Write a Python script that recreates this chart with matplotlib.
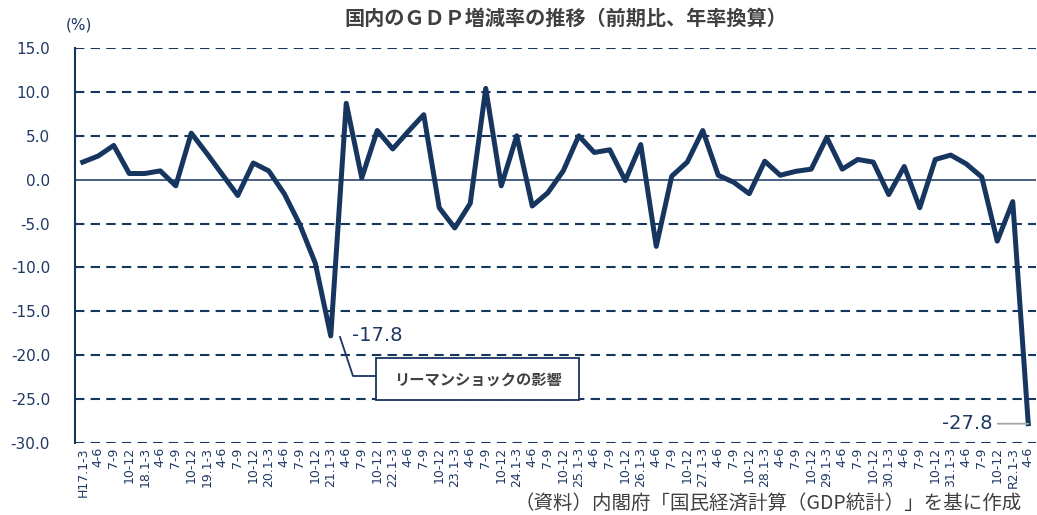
import numpy as np
import matplotlib
matplotlib.use("Agg")
import matplotlib.pyplot as plt
from matplotlib.patches import Rectangle
from matplotlib.lines import Line2D

plt.rcParams['font.family'] = ['DejaVu Sans', 'Noto Sans CJK JP']

# quarterly labels H17.1-3 ... R2.4-6
years = ['H17', '18', '19', '20', '21', '22', '23', '24', '25', '26', '27', '28', '29', '30', '31']
quarters = ['1-3', '4-6', '7-9', '10-12']
labels = []
for y in years:
    labels.append(y + '.' + quarters[0])
    labels.extend(quarters[1:])
labels += ['R2.1-3', '4-6']

# real GDP growth, q/q annualised (%)
growth = [2.0, 2.7, 3.9, 0.7, 0.7, 1.0, -0.7, 5.3,
          3.0, 0.6, -1.8, 1.9, 1.0, -1.6, -5.1, -9.5,
          -17.8, 8.7, 0.2, 5.6, 3.5, 5.5, 7.4, -3.2,
          -5.5, -2.7, 10.4, -0.7, 5.0, -3.0, -1.5, 1.0,
          5.0, 3.1, 3.4, -0.1, 4.0, -7.6, 0.4, 2.0,
          5.6, 0.5, -0.3, -1.6, 2.1, 0.5, 0.95, 1.2,
          4.8, 1.2, 2.3, 2.0, -1.7, 1.5, -3.2, 2.3,
          2.8, 1.8, 0.3, -7.0, -2.5, -27.8]

yticks = [15, 10, 5, 0, -5, -10, -15, -20, -25, -30]

NAVY = '#17365f'
TXT = '#1f3864'
GRAY = '#404040'

W, H = 1037, 515
fig = plt.figure(figsize=(W / 100, H / 100), dpi=100)


def fx(px):
    return px / W


def fy(py):
    return 1 - py / H


ax = fig.add_axes([fx(75), fy(443), fx(1036) - fx(75), fy(48) - fy(443)])
x = np.arange(len(growth))

for v in yticks:
    if v == 0:
        ax.axhline(v, color=NAVY, lw=1.1, zorder=1)
    else:
        ax.axhline(v, color=NAVY, lw=1.5, ls=(0, (4.5, 3)), zorder=1)

ax.plot(x, growth, color=NAVY, lw=3.6, solid_joinstyle='round', zorder=3)

ax.set_xlim(-0.5, len(growth) - 0.5)
ax.set_ylim(-30, 15)
ax.set_yticks(yticks)
ax.set_yticklabels(['%.1f' % v for v in yticks], fontsize=11, color=TXT)
ax.set_xticks(x)
ax.set_xticklabels(labels, rotation=90, fontsize=9, color=TXT)
ax.tick_params(axis='y', length=0, pad=18)
ax.tick_params(axis='x', length=0, pad=3)
for s in ['top', 'right', 'bottom']:
    ax.spines[s].set_visible(False)
ax.spines['left'].set_color(NAVY)
ax.spines['left'].set_linewidth(1.5)

fig.text(fx(79), fy(25), '(%)', fontsize=11, color=TXT, ha='center', va='center')

fig.text(fx(566), fy(18), '国内のＧＤＰ増減率の推移（前期比、年率換算）',
         fontsize=14.5, fontweight='bold', color=GRAY, ha='center', va='center',
         family=['Noto Sans CJK JP', 'DejaVu Sans'])

fig.text(fx(1022), fy(503), '（資料）内閣府「国民経済計算（GDP統計）」を基に作成',
         fontsize=14, color=GRAY, ha='right', va='center',
         family=['Noto Sans CJK JP', 'DejaVu Sans'])

# Lehman shock annotation
imin = int(np.argmin(growth[:40]))
ax.annotate('%.1f' % growth[imin], xy=(imin, growth[imin]), xytext=(15, 0),
            textcoords='offset points', fontsize=14, color=TXT, ha='left', va='center')
fig.add_artist(Line2D([fx(340), fx(353), fx(376)], [fy(337), fy(376), fy(376)],
                      color=NAVY, lw=1.3))
fig.add_artist(Rectangle((fx(376), fy(400)), fx(579) - fx(376), fy(358) - fy(400),
                         facecolor='white', edgecolor=NAVY, lw=1.3, zorder=5))
fig.text(fx(478), fy(380), 'リーマンショックの影響', fontsize=11, fontweight='bold',
         color=GRAY, ha='center', va='center', zorder=6,
         family=['Noto Sans CJK JP', 'DejaVu Sans'])

# latest quarter annotation
ilast = len(growth) - 1
ax.annotate('%.1f' % growth[ilast], xy=(ilast, growth[ilast]), xytext=(-26, 0),
            textcoords='offset points', fontsize=14, color=TXT, ha='right', va='center',
            arrowprops=dict(arrowstyle='-', color='#a6a6a6', lw=1.3, shrinkA=2, shrinkB=0))

fig.savefig('out.png', dpi=100)
